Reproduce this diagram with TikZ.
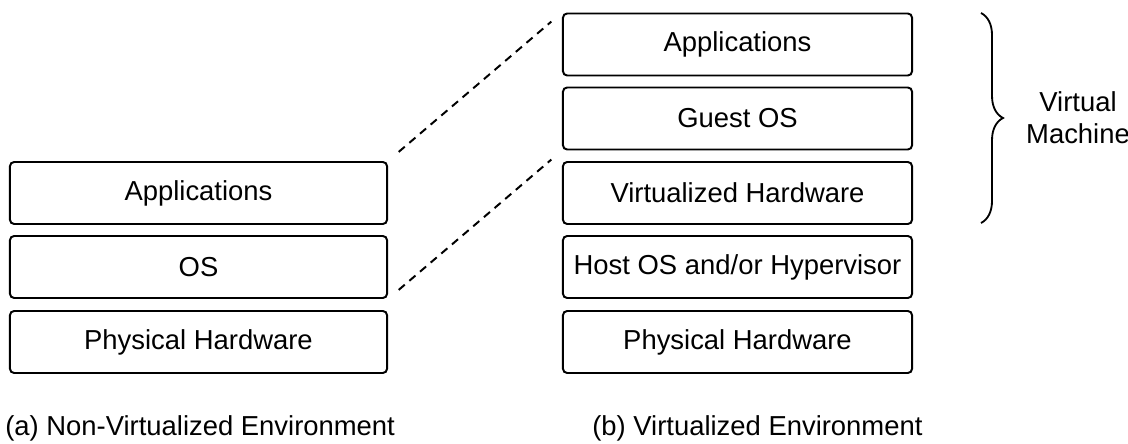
\documentclass[tikz,border=0pt]{standalone}
\usepackage{fontspec}
\setmainfont{Liberation Sans}
\usepackage{tikz}
\usetikzlibrary{decorations.pathreplacing}

\begin{document}
\begin{tikzpicture}[
    x=0.025cm, y=-0.025cm,
    layer/.style={rectangle, draw=black, line width=1.4pt, rounded corners=3pt, minimum height=1.55cm, align=center, font=\fontsize{19.5}{22}\selectfont, inner sep=0pt},
    wide/.style={layer, minimum width=9.425cm},
    narrow/.style={layer, minimum width=8.725cm},
    link/.style={line width=1.4pt, dash pattern=on 0.2cm off 0.15cm, shorten <=0.35cm, shorten >=0.35cm},
    caption/.style={anchor=west, font=\fontsize{19.5}{22}\selectfont, inner sep=0pt}
]
\useasboundingbox (0,0) rectangle (1128,444);

% Non-virtualized stack
\node[wide] (apps) at (198.5,193) {Applications};
\node[wide] (os) at (198.5,267) {OS};
\node[wide] (hw) at (198.5,342) {Physical Hardware};

% Virtualized stack
\node[narrow] (vapps) at (737.5,44.5) {Applications};
\node[narrow] (guest) at (737.5,118.5) {Guest OS};
\node[narrow] (vhw) at (737.5,193) {Virtualized Hardware};
\node[narrow] (host) at (737.5,267) {Host OS and/or Hypervisor};
\node[narrow] (phw) at (737.5,342) {Physical Hardware};

% Zoom lines
\draw[link] (apps.north east) -- (vapps.north west);
\draw[link] (os.south east) -- (guest.south west);

% Brace
\coordinate (btop) at (981,13);
\coordinate (bbot) at (981,223);
\draw[line width=1.3pt, decorate, decoration={brace, amplitude=0.55cm}] (btop) -- (bbot);
\node[align=center, font=\fontsize{19.5}{23}\selectfont] (vm) at (1078,118) {Virtual\\Machine};

% Captions
\node[caption] (capa) at (5,428) {(a) Non-Virtualized Environment};
\node[caption] (capb) at (592,428) {(b) Virtualized Environment};

\end{tikzpicture}
\end{document}
